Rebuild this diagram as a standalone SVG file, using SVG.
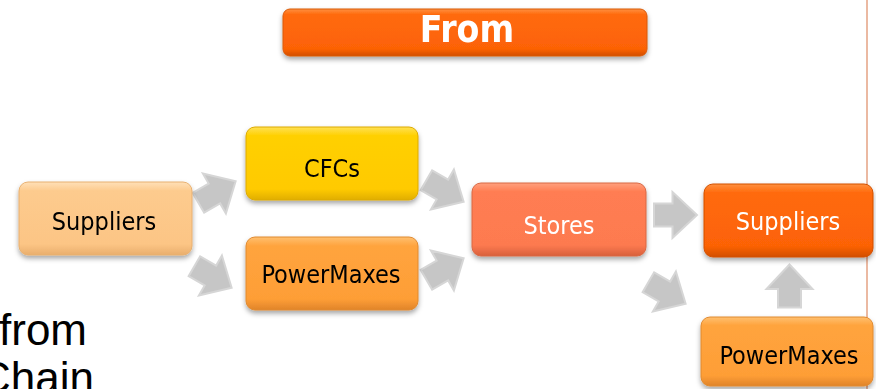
<svg xmlns="http://www.w3.org/2000/svg" width="876" height="389" viewBox="0 0 876 389">
  <style>
    .lbl { font-family: "DejaVu Sans Condensed", "DejaVu Sans", sans-serif; font-stretch: condensed; font-size: 25px; text-anchor: middle; }
    .dark { fill: #000000; }
    .light { fill: #FFFFFF; }
    .title { font-family: "DejaVu Sans Condensed", "DejaVu Sans", sans-serif; font-stretch: condensed; font-weight: bold; font-size: 37px; fill: #FFFFFF; text-anchor: middle; }
    .side { font-family: "Liberation Sans", Arial, sans-serif; font-size: 44px; fill: #000000; }
    .arrow { fill: #C6C6C6; stroke: #D6D6D6; stroke-width: 2; stroke-linejoin: miter; }
    .box { filter: url(#shadow); }
  </style>
  <defs>
    <filter id="shadow" x="-10%" y="-20%" width="120%" height="150%">
      <feDropShadow dx="0" dy="3" stdDeviation="2.5" flood-color="#000000" flood-opacity="0.35"/>
    </filter>
    <linearGradient id="gPeach" x1="0" y1="0" x2="0" y2="1">
      <stop offset="0" stop-color="#FFE0B8"/>
      <stop offset="0.12" stop-color="#FDCB8E"/>
      <stop offset="0.85" stop-color="#FCC585"/>
      <stop offset="1" stop-color="#E9AE6C"/>
    </linearGradient>
    <linearGradient id="gYellow" x1="0" y1="0" x2="0" y2="1">
      <stop offset="0" stop-color="#FFE155"/>
      <stop offset="0.12" stop-color="#FFD000"/>
      <stop offset="0.85" stop-color="#FFCA00"/>
      <stop offset="1" stop-color="#E0AE00"/>
    </linearGradient>
    <linearGradient id="gOrange" x1="0" y1="0" x2="0" y2="1">
      <stop offset="0" stop-color="#FFC070"/>
      <stop offset="0.12" stop-color="#FFA43E"/>
      <stop offset="0.85" stop-color="#FE9E36"/>
      <stop offset="1" stop-color="#E0842A"/>
    </linearGradient>
    <linearGradient id="gCoral" x1="0" y1="0" x2="0" y2="1">
      <stop offset="0" stop-color="#FFA07E"/>
      <stop offset="0.12" stop-color="#FF7D52"/>
      <stop offset="0.85" stop-color="#FD7A50"/>
      <stop offset="1" stop-color="#D8603C"/>
    </linearGradient>
    <linearGradient id="gDeep" x1="0" y1="0" x2="0" y2="1">
      <stop offset="0" stop-color="#FF9040"/>
      <stop offset="0.12" stop-color="#FF6A0C"/>
      <stop offset="0.85" stop-color="#FC6206"/>
      <stop offset="1" stop-color="#D24E00"/>
    </linearGradient>
    <path id="blockArrow" d="M-21.5,-11.5 L-3,-11.5 L-3,-23 L21.5,0 L-3,23 L-3,11.5 L-21.5,11.5 Z"/>
  </defs>

  <rect width="876" height="389" fill="#FFFFFF"/>

  <!-- panel divider on the right -->
  <line x1="867" y1="0" x2="867" y2="389" stroke="#EBB9A2" stroke-width="2"/>

  <!-- side caption, partly clipped at the left edge -->
  <text class="side" x="-1" y="345">from</text>
  <text class="side" x="-21" y="393">Chain</text>

  <!-- header -->
  <g id="header" class="box">
    <rect x="283" y="9" width="364" height="47" rx="7" fill="url(#gDeep)" stroke="#D85A0A" stroke-width="1"/>
    <text class="title" x="467" y="42">From</text>
  </g>

  <!-- connectors -->
  <g id="connectors">
    <use href="#blockArrow" class="arrow" transform="translate(217,192) rotate(-30)"/>
    <use href="#blockArrow" class="arrow" transform="translate(213,277) rotate(30)"/>
    <use href="#blockArrow" class="arrow" transform="translate(445,191) rotate(30)"/>
    <use href="#blockArrow" class="arrow" transform="translate(445,269) rotate(-30)"/>
    <use href="#blockArrow" class="arrow" transform="translate(675.5,215)"/>
    <use href="#blockArrow" class="arrow" transform="translate(667,293) rotate(30)"/>
    <use href="#blockArrow" class="arrow" transform="translate(789.5,286) rotate(-90)"/>
  </g>

  <!-- nodes -->
  <g id="suppliers-src" class="box">
    <rect x="19" y="182" width="173" height="73" rx="9" fill="url(#gPeach)" stroke="#E8B070" stroke-width="1"/>
    <text class="lbl dark" x="104" y="230">Suppliers</text>
  </g>
  <g id="cfcs" class="box">
    <rect x="246" y="127" width="172" height="73" rx="9" fill="url(#gYellow)" stroke="#DDAA00" stroke-width="1"/>
    <text class="lbl dark" x="332" y="177">CFCs</text>
  </g>
  <g id="powermaxes-a" class="box">
    <rect x="246" y="237" width="172" height="73" rx="9" fill="url(#gOrange)" stroke="#E08A30" stroke-width="1"/>
    <text class="lbl dark" x="331" y="283">PowerMaxes</text>
  </g>
  <g id="stores" class="box">
    <rect x="472" y="183" width="174" height="73" rx="9" fill="url(#gCoral)" stroke="#D86844" stroke-width="1"/>
    <text class="lbl light" x="559" y="234">Stores</text>
  </g>
  <g id="suppliers-dst" class="box">
    <rect x="704" y="184" width="169" height="73" rx="9" fill="url(#gDeep)" stroke="#D25000" stroke-width="1"/>
    <text class="lbl light" x="788" y="230">Suppliers</text>
  </g>
  <g id="powermaxes-b" class="box">
    <rect x="701" y="317" width="172" height="69" rx="9" fill="url(#gOrange)" stroke="#E08A30" stroke-width="1"/>
    <text class="lbl dark" x="789" y="364">PowerMaxes</text>
  </g>
</svg>
